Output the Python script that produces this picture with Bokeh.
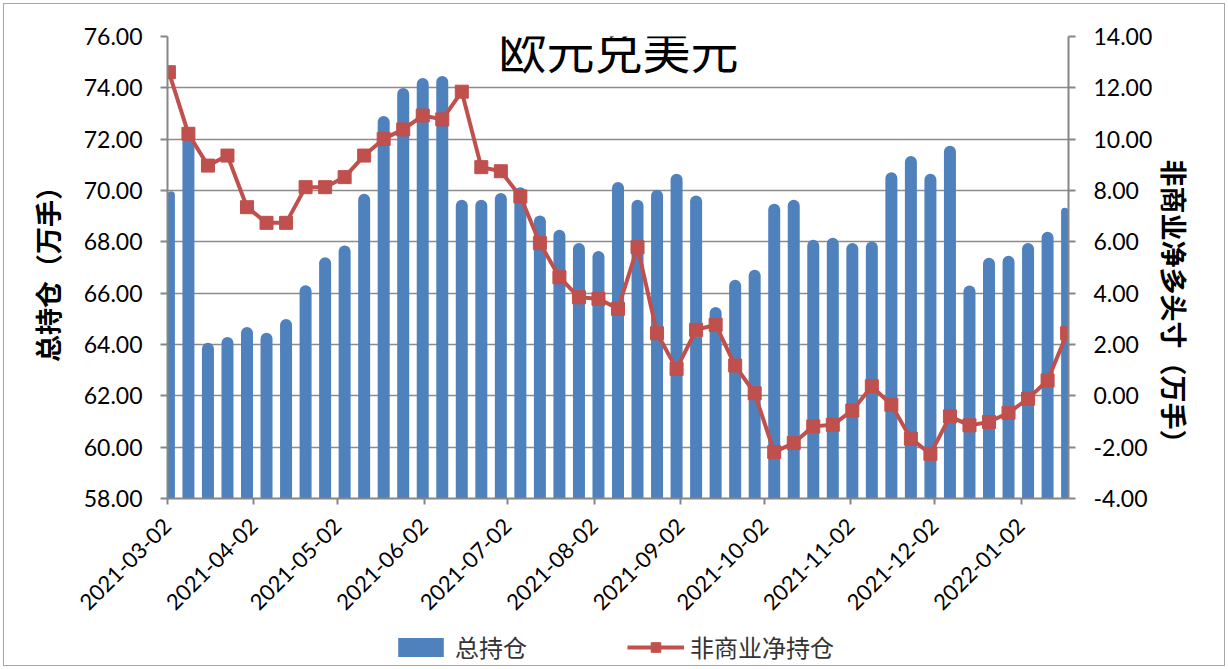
from datetime import datetime, timedelta
from math import pi

from bokeh.plotting import figure
from bokeh.layouts import column
from bokeh.models import (ColumnDataSource, LinearAxis, Range1d, FixedTicker,
                          NumeralTickFormatter, DatetimeTickFormatter, Legend,
                          LegendItem, Label)
from bokeh.embed import file_html
from bokeh.resources import INLINE

# ---------------- data ----------------
dates = [
    "2021-03-02", "2021-03-09", "2021-03-16", "2021-03-23", "2021-03-30",
    "2021-04-06", "2021-04-13", "2021-04-20", "2021-04-27",
    "2021-05-04", "2021-05-11", "2021-05-18", "2021-05-25",
    "2021-06-01", "2021-06-08", "2021-06-15", "2021-06-22", "2021-06-29",
    "2021-07-06", "2021-07-13", "2021-07-20", "2021-07-27",
    "2021-08-03", "2021-08-10", "2021-08-17", "2021-08-24", "2021-08-31",
    "2021-09-07", "2021-09-14", "2021-09-21", "2021-09-28",
    "2021-10-05", "2021-10-12", "2021-10-19", "2021-10-26",
    "2021-11-02", "2021-11-09", "2021-11-16", "2021-11-23", "2021-11-30",
    "2021-12-07", "2021-12-14", "2021-12-21", "2021-12-28",
    "2022-01-04", "2022-01-11", "2022-01-18",
]
total_oi = [
    69.97, 72.40, 64.07, 64.29, 64.68, 64.46, 64.99, 66.31, 67.40, 67.86,
    69.87, 72.90, 73.99, 74.38, 74.46, 69.64, 69.64, 69.90, 70.13, 69.03,
    68.47, 67.95, 67.64, 70.33, 69.64, 70.03, 70.65, 69.81, 65.46, 66.52,
    66.91, 69.48, 69.64, 68.08, 68.16, 67.95, 68.01, 70.71, 71.34, 70.65,
    71.74, 66.30, 67.38, 67.46, 67.95, 68.39, 69.33,
]
net_long = [
    12.61, 10.21, 8.97, 9.36, 7.35, 6.74, 6.74, 8.13, 8.13, 8.52,
    9.36, 10.01, 10.38, 10.92, 10.77, 11.85, 8.91, 8.75, 7.77, 5.95,
    4.62, 3.84, 3.78, 3.39, 5.79, 2.44, 1.05, 2.57, 2.77, 1.18,
    0.10, -2.19, -1.84, -1.19, -1.13, -0.57, 0.37, -0.35, -1.67, -2.26,
    -0.80, -1.15, -1.02, -0.66, -0.11, 0.60, 2.44,
]
month_ticks = [
    "2021-03-02", "2021-04-02", "2021-05-02", "2021-06-02", "2021-07-02",
    "2021-08-02", "2021-09-02", "2021-10-02", "2021-11-02", "2021-12-02",
    "2022-01-02",
]
left_ticks = [58, 60, 62, 64, 66, 68, 70, 72, 74, 76]
right_ticks = [-4, -2, 0, 2, 4, 6, 8, 10, 12, 14]

title_text = "欧元兑美元"
left_label = "总持仓（万手）"
right_label = "非商业净多头寸（万手）"
bar_name = "总持仓"
line_name = "非商业净持仓"

# ---------------- helpers ----------------
EPOCH = datetime(1970, 1, 1)


def to_ms(dt):
    return (dt - EPOCH).total_seconds() * 1000.0


def parse(d):
    return datetime.strptime(d, "%Y-%m-%d")


DAY_MS = 86400000.0
x_vals = [to_ms(parse(d) + timedelta(hours=12)) for d in dates]
src = ColumnDataSource(dict(x=x_vals, total=total_oi, net=net_long))

BLUE = "#4F81BD"
RED = "#C0504D"
GRID = "#8c8c8c"
AXIS = "#868686"
CJK = "Noto Sans CJK SC"
NUMF = "Lato"
W = 1228

x_start = to_ms(parse(dates[0]))
x_end = to_ms(parse(dates[-1]) + timedelta(days=1))

p = figure(width=W, height=628, x_axis_type="datetime",
           output_backend="svg", toolbar_location=None,
           x_range=Range1d(x_start, x_end),
           y_range=Range1d(left_ticks[0], left_ticks[-1]),
           min_border_left=167, min_border_right=160,
           min_border_top=36, min_border_bottom=130)
p.extra_y_ranges = {"net": Range1d(right_ticks[0], right_ticks[-1])}
p.outline_line_color = None
p.background_fill_color = "white"
p.border_fill_color = None

# grid
p.xgrid.grid_line_color = None
p.ygrid.grid_line_color = GRID
p.ygrid.grid_line_width = 1.5

# bars
bar_style = dict(fill_color=BLUE, line_color=None, border_radius=(6, 6, 0, 0))
bars = p.vbar(x="x", top="total", bottom=left_ticks[0], width=4.3 * DAY_MS,
              source=src, **bar_style)

# net line
line_style = dict(line_color=RED, line_width=4)
mark_style = dict(marker="square", size=13, fill_color=RED, line_color=RED)
line = p.line(x="x", y="net", source=src, y_range_name="net", **line_style)
pts = p.scatter(x="x", y="net", source=src, y_range_name="net", **mark_style)


# axes
def style_axis(ax):
    ax.axis_line_color = AXIS
    ax.axis_line_width = 2
    ax.major_tick_line_color = AXIS
    ax.major_tick_line_width = 2
    ax.major_tick_in = 0
    ax.major_tick_out = 7
    ax.minor_tick_line_color = None
    ax.major_label_text_font = NUMF
    ax.major_label_text_font_size = "23px"
    ax.major_label_text_color = "black"
    ax.axis_label_text_font = CJK
    ax.axis_label_text_font_size = "27px"
    ax.axis_label_text_font_style = "bold"
    ax.axis_label_text_color = "black"


xa = p.xaxis[0]
style_axis(xa)
xa.major_label_text_font_size = "22px"
xa.major_tick_out = 6
xa.ticker = FixedTicker(ticks=[to_ms(parse(t)) for t in month_ticks])
fmt = "%Y-%m-%d"
xa.formatter = DatetimeTickFormatter(
    microseconds=fmt, milliseconds=fmt, seconds=fmt, minsec=fmt,
    minutes=fmt, hourmin=fmt, hours=fmt, days=fmt, months=fmt, years=fmt)
xa.major_label_orientation = pi / 4
xa.major_label_standoff = 18

ya = p.yaxis[0]
style_axis(ya)
ya.ticker = FixedTicker(ticks=left_ticks)
ya.formatter = NumeralTickFormatter(format="0.00")
ya.axis_label = left_label
ya.major_label_standoff = 18
ya.axis_label_standoff = 14

# the reference's right-axis title sits a little below the frame centre;
# pad its leading (top) end so the visible text moves down
ra = LinearAxis(y_range_name="net", axis_label="\u3000" * 3 + right_label)
style_axis(ra)
ra.ticker = FixedTicker(ticks=right_ticks)
ra.formatter = NumeralTickFormatter(format="0.00")
ra.major_label_standoff = 18
ra.axis_label_standoff = 0
p.add_layout(ra, "right")

# title inside the frame
p.add_layout(Label(x=451, y=451, x_units="screen", y_units="screen",
                   text=title_text, text_font=CJK, text_font_size="48px",
                   text_align="center", text_baseline="middle",
                   text_color="black"))

# ---------------- legend strip below ----------------
# shares the x range; its y range lies above every value, so the legend-only
# renderers draw nothing inside the strip
lf = figure(width=W, height=41, output_backend="svg", toolbar_location=None,
            x_range=p.x_range, y_range=Range1d(100, 101),
            x_axis_location=None, y_axis_location=None,
            min_border_left=167, min_border_right=160,
            min_border_top=0, min_border_bottom=0)
lf.outline_line_color = None
lf.grid.grid_line_color = None
lf.border_fill_color = None
lf.background_fill_color = None
lbar = lf.vbar(x="x", top="total", width=4.3 * DAY_MS, source=src, **bar_style)
lline = lf.line(x="x", y="net", source=src, **line_style)
lpts = lf.scatter(x="x", y="net", source=src, **mark_style)

legend = Legend(items=[LegendItem(label=bar_name, renderers=[lbar]),
                       LegendItem(label=line_name, renderers=[lline, lpts])],
                location=(225, 5), orientation="horizontal",
                glyph_width=57, glyph_height=24, label_height=24,
                label_text_font=CJK, label_text_font_size="24px",
                label_text_color="#333333", label_standoff=6,
                spacing=100, padding=0, margin=0,
                border_line_color=None, background_fill_alpha=0)
lf.add_layout(legend)

layout = column(p, lf, spacing=0)
layout.styles = {"outline": "1px solid #a6a6a6", "outline-offset": "-4px"}

open("out.html", "w").write(file_html(layout, INLINE))
